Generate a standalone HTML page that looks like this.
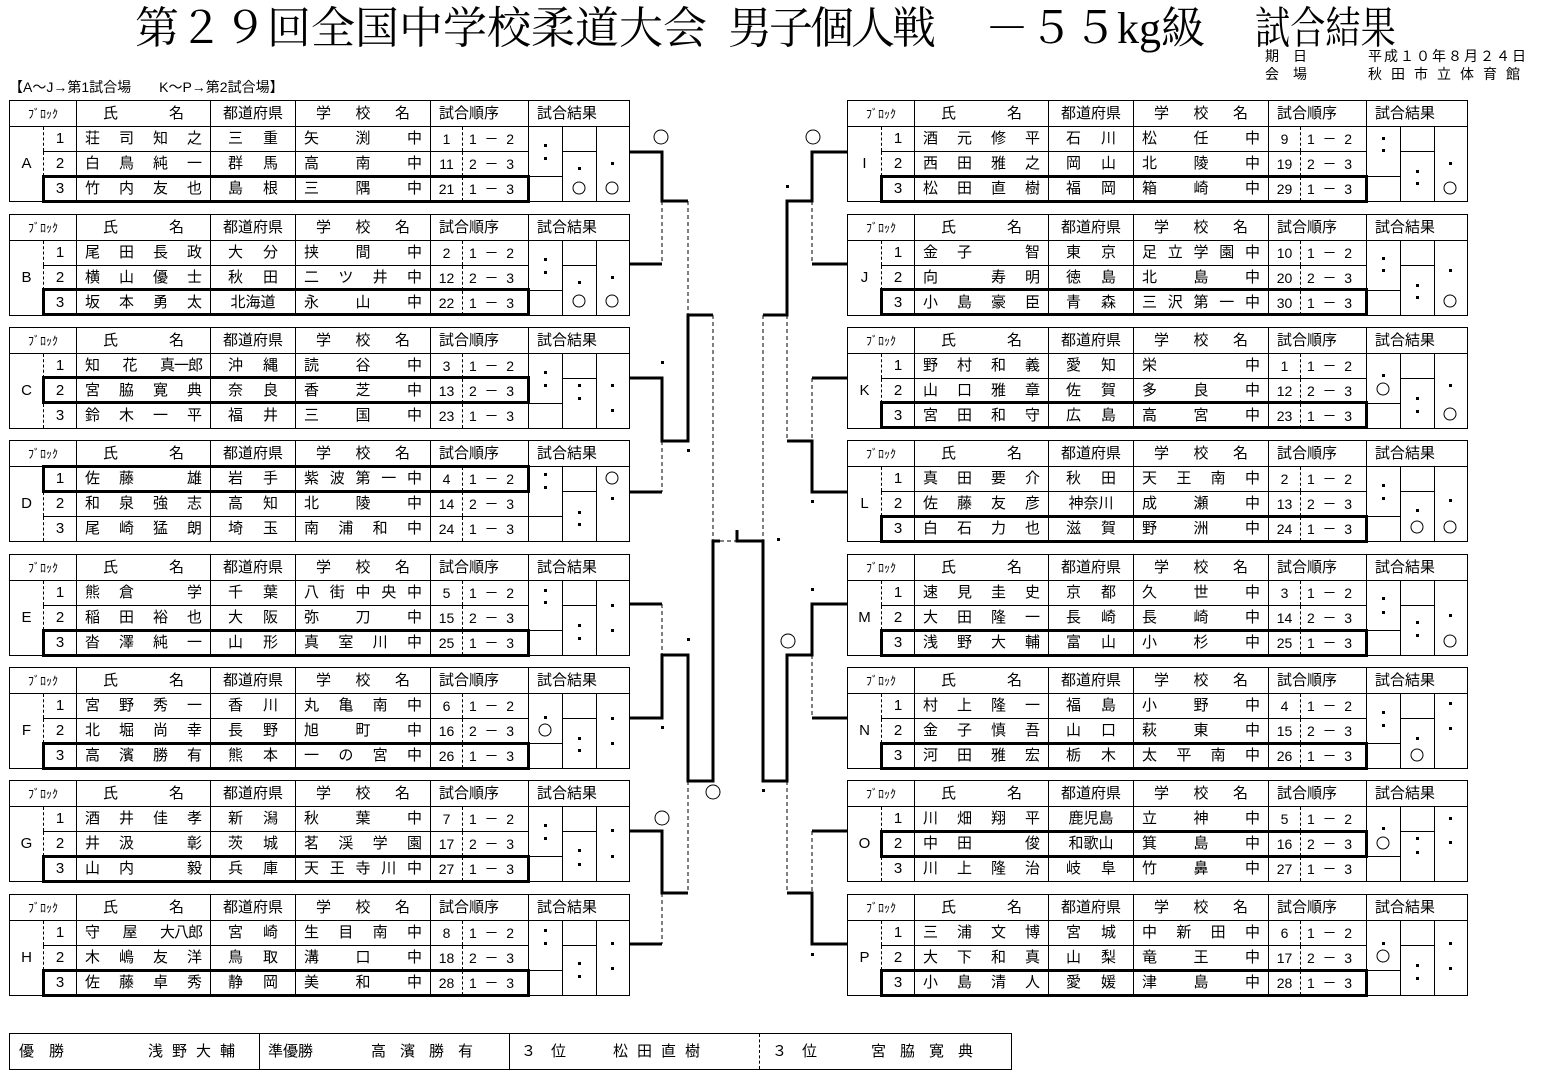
<!DOCTYPE html>
<html><head><meta charset="utf-8">
<style>
body{margin:0;width:1541px;height:1076px;position:relative;background:#fff;overflow:hidden;font-family:"Liberation Sans","Noto Sans CJK JP",sans-serif;color:#000}
.t{position:absolute;white-space:nowrap}
.ti{font-family:"Liberation Serif","Noto Serif CJK SC",serif;font-size:44px;line-height:50px;top:4px}
table.b{position:absolute;border-collapse:collapse;table-layout:fixed;width:620px;font-size:15px}
table.b td{border:1px solid #000;padding:0;height:24px;line-height:18px;overflow:hidden;white-space:nowrap}
table.b tr.h td{height:25px}
td.j{text-align:justify;text-align-last:justify}
td.L{text-align:center;border-right:1px dashed #000 !important}
td.n{text-align:center;border-left:1px dashed #000 !important}
td.nm{padding:0 8px !important}
td.p2{padding:0 17px !important}
td.p3{text-align:center}
td.sc{padding:0 8px !important}
td.o{text-align:center;border-right:1px dashed #000 !important;font-size:14px}
td.oo{padding:0 14px 0 6px !important;border-left:1px dashed #000 !important;font-size:14px}
td.hb{text-align:center;font-size:12px}
td.hn{padding:0 26px !important}
td.hp{text-align:center}
td.hs{padding:0 20px !important}
td.hl{padding-left:8px !important}
i{visibility:hidden;font-style:normal}
b.k{display:inline-block;font-weight:normal;letter-spacing:-1px}
.bx{position:absolute;border:3px solid #000;box-sizing:border-box;width:488px;height:28px}
.bt{position:absolute;left:9px;top:1033px;width:1003px;height:37px;border:1px solid #000;box-sizing:border-box;font-size:15px}
.bt div{position:absolute;top:0;height:35px;line-height:35px;white-space:nowrap}
</style></head><body>

<div class="t ti" style="left:135px">第２９回全国中学校柔道大会</div>
<div class="t ti" style="left:728px;letter-spacing:-3px">男子個人戦</div>
<div class="t ti" style="left:985px">－５５kg級</div>
<div class="t ti" style="left:1255px;transform:scaleX(0.8);transform-origin:left">試合結果</div>
<div class="t" style="left:1265px;top:48px;font-size:14px;line-height:16px">期　日</div>
<div class="t" style="left:1368px;top:48px;font-size:14px;line-height:16px;letter-spacing:2px">平成１０年８月２４日</div>
<div class="t" style="left:1265px;top:66px;font-size:14px;line-height:16px">会　場</div>
<div class="t" style="left:1368px;top:66px;font-size:14px;line-height:16px;letter-spacing:9px">秋田市立体育館</div>
<div class="t" style="left:9px;top:79px;font-size:14px;line-height:16px">【A～J→第1試合場　　K～P→第2試合場】</div>

<!-- LEFT BLOCKS -->
<table class="b" style="left:9px;top:100px"><colgroup><col style="width:34px"><col style="width:33px"><col style="width:134px"><col style="width:85px"><col style="width:135px"><col style="width:32px"><col style="width:66px"><col style="width:34px"><col style="width:34px"><col style="width:33px"></colgroup>
<tr class="h"><td colspan="2" class="hb">ﾌﾞﾛｯｸ</td><td class="j hn">氏 名</td><td class="hp">都道府県</td><td class="j hs">学 校 名</td><td colspan="2" class="hl">試合順序</td><td colspan="3" class="hl">試合結果</td></tr>
<tr><td class="L" rowspan="3">A</td><td class="n">1</td><td class="j nm">荘 司 知 之</td><td class="j p2">三 重</td><td class="j sc">矢 <i>中</i> 渕 <i>中</i> 中</td><td class="o">1</td><td class="j oo">1 － 2</td><td rowspan="2"></td><td></td><td rowspan="3"></td></tr>
<tr><td class="n">2</td><td class="j nm">白 鳥 純 一</td><td class="j p2">群 馬</td><td class="j sc">高 <i>中</i> 南 <i>中</i> 中</td><td class="o">11</td><td class="j oo">2 － 3</td><td rowspan="2"></td></tr>
<tr><td class="n">3</td><td class="j nm">竹 内 友 也</td><td class="j p2">島 根</td><td class="j sc">三 <i>中</i> 隅 <i>中</i> 中</td><td class="o">21</td><td class="j oo">1 － 3</td><td></td></tr></table>

<table class="b" style="left:9px;top:214px"><colgroup><col style="width:34px"><col style="width:33px"><col style="width:134px"><col style="width:85px"><col style="width:135px"><col style="width:32px"><col style="width:66px"><col style="width:34px"><col style="width:34px"><col style="width:33px"></colgroup>
<tr class="h"><td colspan="2" class="hb">ﾌﾞﾛｯｸ</td><td class="j hn">氏 名</td><td class="hp">都道府県</td><td class="j hs">学 校 名</td><td colspan="2" class="hl">試合順序</td><td colspan="3" class="hl">試合結果</td></tr>
<tr><td class="L" rowspan="3">B</td><td class="n">1</td><td class="j nm">尾 田 長 政</td><td class="j p2">大 分</td><td class="j sc">挟 <i>中</i> 間 <i>中</i> 中</td><td class="o">2</td><td class="j oo">1 － 2</td><td rowspan="2"></td><td></td><td rowspan="3"></td></tr>
<tr><td class="n">2</td><td class="j nm">横 山 優 士</td><td class="j p2">秋 田</td><td class="j sc">二 ツ 井 中</td><td class="o">12</td><td class="j oo">2 － 3</td><td rowspan="2"></td></tr>
<tr><td class="n">3</td><td class="j nm">坂 本 勇 太</td><td class="p3">北海道</td><td class="j sc">永 <i>中</i> 山 <i>中</i> 中</td><td class="o">22</td><td class="j oo">1 － 3</td><td></td></tr></table>

<table class="b" style="left:9px;top:327px"><colgroup><col style="width:34px"><col style="width:33px"><col style="width:134px"><col style="width:85px"><col style="width:135px"><col style="width:32px"><col style="width:66px"><col style="width:34px"><col style="width:34px"><col style="width:33px"></colgroup>
<tr class="h"><td colspan="2" class="hb">ﾌﾞﾛｯｸ</td><td class="j hn">氏 名</td><td class="hp">都道府県</td><td class="j hs">学 校 名</td><td colspan="2" class="hl">試合順序</td><td colspan="3" class="hl">試合結果</td></tr>
<tr><td class="L" rowspan="3">C</td><td class="n">1</td><td class="j nm">知 花 <b class="k">真一郎</b></td><td class="j p2">沖 縄</td><td class="j sc">読 <i>中</i> 谷 <i>中</i> 中</td><td class="o">3</td><td class="j oo">1 － 2</td><td rowspan="2"></td><td></td><td rowspan="3"></td></tr>
<tr><td class="n">2</td><td class="j nm">宮 脇 寛 典</td><td class="j p2">奈 良</td><td class="j sc">香 <i>中</i> 芝 <i>中</i> 中</td><td class="o">13</td><td class="j oo">2 － 3</td><td rowspan="2"></td></tr>
<tr><td class="n">3</td><td class="j nm">鈴 木 一 平</td><td class="j p2">福 井</td><td class="j sc">三 <i>中</i> 国 <i>中</i> 中</td><td class="o">23</td><td class="j oo">1 － 3</td><td></td></tr></table>

<table class="b" style="left:9px;top:440px"><colgroup><col style="width:34px"><col style="width:33px"><col style="width:134px"><col style="width:85px"><col style="width:135px"><col style="width:32px"><col style="width:66px"><col style="width:34px"><col style="width:34px"><col style="width:33px"></colgroup>
<tr class="h"><td colspan="2" class="hb">ﾌﾞﾛｯｸ</td><td class="j hn">氏 名</td><td class="hp">都道府県</td><td class="j hs">学 校 名</td><td colspan="2" class="hl">試合順序</td><td colspan="3" class="hl">試合結果</td></tr>
<tr><td class="L" rowspan="3">D</td><td class="n">1</td><td class="j nm">佐 藤 <i>雄</i> 雄</td><td class="j p2">岩 手</td><td class="j sc">紫 波 第 一 中</td><td class="o">4</td><td class="j oo">1 － 2</td><td rowspan="2"></td><td></td><td rowspan="3"></td></tr>
<tr><td class="n">2</td><td class="j nm">和 泉 強 志</td><td class="j p2">高 知</td><td class="j sc">北 <i>中</i> 陵 <i>中</i> 中</td><td class="o">14</td><td class="j oo">2 － 3</td><td rowspan="2"></td></tr>
<tr><td class="n">3</td><td class="j nm">尾 崎 猛 朗</td><td class="j p2">埼 玉</td><td class="j sc">南 浦 和 中</td><td class="o">24</td><td class="j oo">1 － 3</td><td></td></tr></table>

<table class="b" style="left:9px;top:554px"><colgroup><col style="width:34px"><col style="width:33px"><col style="width:134px"><col style="width:85px"><col style="width:135px"><col style="width:32px"><col style="width:66px"><col style="width:34px"><col style="width:34px"><col style="width:33px"></colgroup>
<tr class="h"><td colspan="2" class="hb">ﾌﾞﾛｯｸ</td><td class="j hn">氏 名</td><td class="hp">都道府県</td><td class="j hs">学 校 名</td><td colspan="2" class="hl">試合順序</td><td colspan="3" class="hl">試合結果</td></tr>
<tr><td class="L" rowspan="3">E</td><td class="n">1</td><td class="j nm">熊 倉 <i>学</i> 学</td><td class="j p2">千 葉</td><td class="j sc">八 街 中 央 中</td><td class="o">5</td><td class="j oo">1 － 2</td><td rowspan="2"></td><td></td><td rowspan="3"></td></tr>
<tr><td class="n">2</td><td class="j nm">稲 田 裕 也</td><td class="j p2">大 阪</td><td class="j sc">弥 <i>中</i> 刀 <i>中</i> 中</td><td class="o">15</td><td class="j oo">2 － 3</td><td rowspan="2"></td></tr>
<tr><td class="n">3</td><td class="j nm">沓 澤 純 一</td><td class="j p2">山 形</td><td class="j sc">真 室 川 中</td><td class="o">25</td><td class="j oo">1 － 3</td><td></td></tr></table>

<table class="b" style="left:9px;top:667px"><colgroup><col style="width:34px"><col style="width:33px"><col style="width:134px"><col style="width:85px"><col style="width:135px"><col style="width:32px"><col style="width:66px"><col style="width:34px"><col style="width:34px"><col style="width:33px"></colgroup>
<tr class="h"><td colspan="2" class="hb">ﾌﾞﾛｯｸ</td><td class="j hn">氏 名</td><td class="hp">都道府県</td><td class="j hs">学 校 名</td><td colspan="2" class="hl">試合順序</td><td colspan="3" class="hl">試合結果</td></tr>
<tr><td class="L" rowspan="3">F</td><td class="n">1</td><td class="j nm">宮 野 秀 一</td><td class="j p2">香 川</td><td class="j sc">丸 亀 南 中</td><td class="o">6</td><td class="j oo">1 － 2</td><td rowspan="2"></td><td></td><td rowspan="3"></td></tr>
<tr><td class="n">2</td><td class="j nm">北 堀 尚 幸</td><td class="j p2">長 野</td><td class="j sc">旭 <i>中</i> 町 <i>中</i> 中</td><td class="o">16</td><td class="j oo">2 － 3</td><td rowspan="2"></td></tr>
<tr><td class="n">3</td><td class="j nm">高 濱 勝 有</td><td class="j p2">熊 本</td><td class="j sc">一 の 宮 中</td><td class="o">26</td><td class="j oo">1 － 3</td><td></td></tr></table>

<table class="b" style="left:9px;top:780px"><colgroup><col style="width:34px"><col style="width:33px"><col style="width:134px"><col style="width:85px"><col style="width:135px"><col style="width:32px"><col style="width:66px"><col style="width:34px"><col style="width:34px"><col style="width:33px"></colgroup>
<tr class="h"><td colspan="2" class="hb">ﾌﾞﾛｯｸ</td><td class="j hn">氏 名</td><td class="hp">都道府県</td><td class="j hs">学 校 名</td><td colspan="2" class="hl">試合順序</td><td colspan="3" class="hl">試合結果</td></tr>
<tr><td class="L" rowspan="3">G</td><td class="n">1</td><td class="j nm">酒 井 佳 孝</td><td class="j p2">新 潟</td><td class="j sc">秋 <i>中</i> 葉 <i>中</i> 中</td><td class="o">7</td><td class="j oo">1 － 2</td><td rowspan="2"></td><td></td><td rowspan="3"></td></tr>
<tr><td class="n">2</td><td class="j nm">井 汲 <i>彰</i> 彰</td><td class="j p2">茨 城</td><td class="j sc">茗 渓 学 園</td><td class="o">17</td><td class="j oo">2 － 3</td><td rowspan="2"></td></tr>
<tr><td class="n">3</td><td class="j nm">山 内 <i>毅</i> 毅</td><td class="j p2">兵 庫</td><td class="j sc">天 王 寺 川 中</td><td class="o">27</td><td class="j oo">1 － 3</td><td></td></tr></table>

<table class="b" style="left:9px;top:894px"><colgroup><col style="width:34px"><col style="width:33px"><col style="width:134px"><col style="width:85px"><col style="width:135px"><col style="width:32px"><col style="width:66px"><col style="width:34px"><col style="width:34px"><col style="width:33px"></colgroup>
<tr class="h"><td colspan="2" class="hb">ﾌﾞﾛｯｸ</td><td class="j hn">氏 名</td><td class="hp">都道府県</td><td class="j hs">学 校 名</td><td colspan="2" class="hl">試合順序</td><td colspan="3" class="hl">試合結果</td></tr>
<tr><td class="L" rowspan="3">H</td><td class="n">1</td><td class="j nm">守 屋 <b class="k">大八郎</b></td><td class="j p2">宮 崎</td><td class="j sc">生 目 南 中</td><td class="o">8</td><td class="j oo">1 － 2</td><td rowspan="2"></td><td></td><td rowspan="3"></td></tr>
<tr><td class="n">2</td><td class="j nm">木 嶋 友 洋</td><td class="j p2">鳥 取</td><td class="j sc">溝 <i>中</i> 口 <i>中</i> 中</td><td class="o">18</td><td class="j oo">2 － 3</td><td rowspan="2"></td></tr>
<tr><td class="n">3</td><td class="j nm">佐 藤 卓 秀</td><td class="j p2">静 岡</td><td class="j sc">美 <i>中</i> 和 <i>中</i> 中</td><td class="o">28</td><td class="j oo">1 － 3</td><td></td></tr></table>

<!-- RIGHT BLOCKS -->
<table class="b" style="left:847px;top:100px"><colgroup><col style="width:34px"><col style="width:33px"><col style="width:134px"><col style="width:85px"><col style="width:135px"><col style="width:32px"><col style="width:66px"><col style="width:34px"><col style="width:34px"><col style="width:33px"></colgroup>
<tr class="h"><td colspan="2" class="hb">ﾌﾞﾛｯｸ</td><td class="j hn">氏 名</td><td class="hp">都道府県</td><td class="j hs">学 校 名</td><td colspan="2" class="hl">試合順序</td><td colspan="3" class="hl">試合結果</td></tr>
<tr><td class="L" rowspan="3">I</td><td class="n">1</td><td class="j nm">酒 元 修 平</td><td class="j p2">石 川</td><td class="j sc">松 <i>中</i> 任 <i>中</i> 中</td><td class="o">9</td><td class="j oo">1 － 2</td><td rowspan="2"></td><td></td><td rowspan="3"></td></tr>
<tr><td class="n">2</td><td class="j nm">西 田 雅 之</td><td class="j p2">岡 山</td><td class="j sc">北 <i>中</i> 陵 <i>中</i> 中</td><td class="o">19</td><td class="j oo">2 － 3</td><td rowspan="2"></td></tr>
<tr><td class="n">3</td><td class="j nm">松 田 直 樹</td><td class="j p2">福 岡</td><td class="j sc">箱 <i>中</i> 崎 <i>中</i> 中</td><td class="o">29</td><td class="j oo">1 － 3</td><td></td></tr></table>

<table class="b" style="left:847px;top:214px"><colgroup><col style="width:34px"><col style="width:33px"><col style="width:134px"><col style="width:85px"><col style="width:135px"><col style="width:32px"><col style="width:66px"><col style="width:34px"><col style="width:34px"><col style="width:33px"></colgroup>
<tr class="h"><td colspan="2" class="hb">ﾌﾞﾛｯｸ</td><td class="j hn">氏 名</td><td class="hp">都道府県</td><td class="j hs">学 校 名</td><td colspan="2" class="hl">試合順序</td><td colspan="3" class="hl">試合結果</td></tr>
<tr><td class="L" rowspan="3">J</td><td class="n">1</td><td class="j nm">金 子 <i>智</i> 智</td><td class="j p2">東 京</td><td class="j sc">足 立 学 園 中</td><td class="o">10</td><td class="j oo">1 － 2</td><td rowspan="2"></td><td></td><td rowspan="3"></td></tr>
<tr><td class="n">2</td><td class="j nm">向 <i>寿</i> 寿 明</td><td class="j p2">徳 島</td><td class="j sc">北 <i>中</i> 島 <i>中</i> 中</td><td class="o">20</td><td class="j oo">2 － 3</td><td rowspan="2"></td></tr>
<tr><td class="n">3</td><td class="j nm">小 島 豪 臣</td><td class="j p2">青 森</td><td class="j sc">三 沢 第 一 中</td><td class="o">30</td><td class="j oo">1 － 3</td><td></td></tr></table>

<table class="b" style="left:847px;top:327px"><colgroup><col style="width:34px"><col style="width:33px"><col style="width:134px"><col style="width:85px"><col style="width:135px"><col style="width:32px"><col style="width:66px"><col style="width:34px"><col style="width:34px"><col style="width:33px"></colgroup>
<tr class="h"><td colspan="2" class="hb">ﾌﾞﾛｯｸ</td><td class="j hn">氏 名</td><td class="hp">都道府県</td><td class="j hs">学 校 名</td><td colspan="2" class="hl">試合順序</td><td colspan="3" class="hl">試合結果</td></tr>
<tr><td class="L" rowspan="3">K</td><td class="n">1</td><td class="j nm">野 村 和 義</td><td class="j p2">愛 知</td><td class="j sc">栄 <i>中</i> <i>中</i> <i>中</i> 中</td><td class="o">1</td><td class="j oo">1 － 2</td><td rowspan="2"></td><td></td><td rowspan="3"></td></tr>
<tr><td class="n">2</td><td class="j nm">山 口 雅 章</td><td class="j p2">佐 賀</td><td class="j sc">多 <i>中</i> 良 <i>中</i> 中</td><td class="o">12</td><td class="j oo">2 － 3</td><td rowspan="2"></td></tr>
<tr><td class="n">3</td><td class="j nm">宮 田 和 守</td><td class="j p2">広 島</td><td class="j sc">高 <i>中</i> 宮 <i>中</i> 中</td><td class="o">23</td><td class="j oo">1 － 3</td><td></td></tr></table>

<table class="b" style="left:847px;top:440px"><colgroup><col style="width:34px"><col style="width:33px"><col style="width:134px"><col style="width:85px"><col style="width:135px"><col style="width:32px"><col style="width:66px"><col style="width:34px"><col style="width:34px"><col style="width:33px"></colgroup>
<tr class="h"><td colspan="2" class="hb">ﾌﾞﾛｯｸ</td><td class="j hn">氏 名</td><td class="hp">都道府県</td><td class="j hs">学 校 名</td><td colspan="2" class="hl">試合順序</td><td colspan="3" class="hl">試合結果</td></tr>
<tr><td class="L" rowspan="3">L</td><td class="n">1</td><td class="j nm">真 田 要 介</td><td class="j p2">秋 田</td><td class="j sc">天 王 南 中</td><td class="o">2</td><td class="j oo">1 － 2</td><td rowspan="2"></td><td></td><td rowspan="3"></td></tr>
<tr><td class="n">2</td><td class="j nm">佐 藤 友 彦</td><td class="p3">神奈川</td><td class="j sc">成 <i>中</i> 瀬 <i>中</i> 中</td><td class="o">13</td><td class="j oo">2 － 3</td><td rowspan="2"></td></tr>
<tr><td class="n">3</td><td class="j nm">白 石 力 也</td><td class="j p2">滋 賀</td><td class="j sc">野 <i>中</i> 洲 <i>中</i> 中</td><td class="o">24</td><td class="j oo">1 － 3</td><td></td></tr></table>

<table class="b" style="left:847px;top:554px"><colgroup><col style="width:34px"><col style="width:33px"><col style="width:134px"><col style="width:85px"><col style="width:135px"><col style="width:32px"><col style="width:66px"><col style="width:34px"><col style="width:34px"><col style="width:33px"></colgroup>
<tr class="h"><td colspan="2" class="hb">ﾌﾞﾛｯｸ</td><td class="j hn">氏 名</td><td class="hp">都道府県</td><td class="j hs">学 校 名</td><td colspan="2" class="hl">試合順序</td><td colspan="3" class="hl">試合結果</td></tr>
<tr><td class="L" rowspan="3">M</td><td class="n">1</td><td class="j nm">速 見 圭 史</td><td class="j p2">京 都</td><td class="j sc">久 <i>中</i> 世 <i>中</i> 中</td><td class="o">3</td><td class="j oo">1 － 2</td><td rowspan="2"></td><td></td><td rowspan="3"></td></tr>
<tr><td class="n">2</td><td class="j nm">大 田 隆 一</td><td class="j p2">長 崎</td><td class="j sc">長 <i>中</i> 崎 <i>中</i> 中</td><td class="o">14</td><td class="j oo">2 － 3</td><td rowspan="2"></td></tr>
<tr><td class="n">3</td><td class="j nm">浅 野 大 輔</td><td class="j p2">富 山</td><td class="j sc">小 <i>中</i> 杉 <i>中</i> 中</td><td class="o">25</td><td class="j oo">1 － 3</td><td></td></tr></table>

<table class="b" style="left:847px;top:667px"><colgroup><col style="width:34px"><col style="width:33px"><col style="width:134px"><col style="width:85px"><col style="width:135px"><col style="width:32px"><col style="width:66px"><col style="width:34px"><col style="width:34px"><col style="width:33px"></colgroup>
<tr class="h"><td colspan="2" class="hb">ﾌﾞﾛｯｸ</td><td class="j hn">氏 名</td><td class="hp">都道府県</td><td class="j hs">学 校 名</td><td colspan="2" class="hl">試合順序</td><td colspan="3" class="hl">試合結果</td></tr>
<tr><td class="L" rowspan="3">N</td><td class="n">1</td><td class="j nm">村 上 隆 一</td><td class="j p2">福 島</td><td class="j sc">小 <i>中</i> 野 <i>中</i> 中</td><td class="o">4</td><td class="j oo">1 － 2</td><td rowspan="2"></td><td></td><td rowspan="3"></td></tr>
<tr><td class="n">2</td><td class="j nm">金 子 慎 吾</td><td class="j p2">山 口</td><td class="j sc">萩 <i>中</i> 東 <i>中</i> 中</td><td class="o">15</td><td class="j oo">2 － 3</td><td rowspan="2"></td></tr>
<tr><td class="n">3</td><td class="j nm">河 田 雅 宏</td><td class="j p2">栃 木</td><td class="j sc">太 平 南 中</td><td class="o">26</td><td class="j oo">1 － 3</td><td></td></tr></table>

<table class="b" style="left:847px;top:780px"><colgroup><col style="width:34px"><col style="width:33px"><col style="width:134px"><col style="width:85px"><col style="width:135px"><col style="width:32px"><col style="width:66px"><col style="width:34px"><col style="width:34px"><col style="width:33px"></colgroup>
<tr class="h"><td colspan="2" class="hb">ﾌﾞﾛｯｸ</td><td class="j hn">氏 名</td><td class="hp">都道府県</td><td class="j hs">学 校 名</td><td colspan="2" class="hl">試合順序</td><td colspan="3" class="hl">試合結果</td></tr>
<tr><td class="L" rowspan="3">O</td><td class="n">1</td><td class="j nm">川 畑 翔 平</td><td class="p3">鹿児島</td><td class="j sc">立 <i>中</i> 神 <i>中</i> 中</td><td class="o">5</td><td class="j oo">1 － 2</td><td rowspan="2"></td><td></td><td rowspan="3"></td></tr>
<tr><td class="n">2</td><td class="j nm">中 田 <i>俊</i> 俊</td><td class="p3">和歌山</td><td class="j sc">箕 <i>中</i> 島 <i>中</i> 中</td><td class="o">16</td><td class="j oo">2 － 3</td><td rowspan="2"></td></tr>
<tr><td class="n">3</td><td class="j nm">川 上 隆 治</td><td class="j p2">岐 阜</td><td class="j sc">竹 <i>中</i> 鼻 <i>中</i> 中</td><td class="o">27</td><td class="j oo">1 － 3</td><td></td></tr></table>

<table class="b" style="left:847px;top:894px"><colgroup><col style="width:34px"><col style="width:33px"><col style="width:134px"><col style="width:85px"><col style="width:135px"><col style="width:32px"><col style="width:66px"><col style="width:34px"><col style="width:34px"><col style="width:33px"></colgroup>
<tr class="h"><td colspan="2" class="hb">ﾌﾞﾛｯｸ</td><td class="j hn">氏 名</td><td class="hp">都道府県</td><td class="j hs">学 校 名</td><td colspan="2" class="hl">試合順序</td><td colspan="3" class="hl">試合結果</td></tr>
<tr><td class="L" rowspan="3">P</td><td class="n">1</td><td class="j nm">三 浦 文 博</td><td class="j p2">宮 城</td><td class="j sc">中 新 田 中</td><td class="o">6</td><td class="j oo">1 － 2</td><td rowspan="2"></td><td></td><td rowspan="3"></td></tr>
<tr><td class="n">2</td><td class="j nm">大 下 和 真</td><td class="j p2">山 梨</td><td class="j sc">竜 <i>中</i> 王 <i>中</i> 中</td><td class="o">17</td><td class="j oo">2 － 3</td><td rowspan="2"></td></tr>
<tr><td class="n">3</td><td class="j nm">小 島 清 人</td><td class="j p2">愛 媛</td><td class="j sc">津 <i>中</i> 島 <i>中</i> 中</td><td class="o">28</td><td class="j oo">1 － 3</td><td></td></tr></table>

<!-- winner boxes -->
<div class="bx" style="left:42px;top:175px"></div>
<div class="bx" style="left:42px;top:288px"></div>
<div class="bx" style="left:42px;top:376px"></div>
<div class="bx" style="left:42px;top:465px"></div>
<div class="bx" style="left:42px;top:629px"></div>
<div class="bx" style="left:42px;top:742px"></div>
<div class="bx" style="left:42px;top:855px"></div>
<div class="bx" style="left:42px;top:969px"></div>
<div class="bx" style="left:880px;top:175px"></div>
<div class="bx" style="left:880px;top:288px"></div>
<div class="bx" style="left:880px;top:401px"></div>
<div class="bx" style="left:880px;top:515px"></div>
<div class="bx" style="left:880px;top:629px"></div>
<div class="bx" style="left:880px;top:742px"></div>
<div class="bx" style="left:880px;top:830px"></div>
<div class="bx" style="left:880px;top:969px"></div>

<svg style="position:absolute;left:0;top:0" width="1541" height="1076">
<g fill="none" stroke="#000" stroke-width="3">
<path d="M629 152H662V201H688"/><path d="M629 264H662"/>
<path d="M629 378H662V441H688V315H713"/><path d="M629 492H662"/>
<path d="M629 604H662"/><path d="M629 718H662V655H688V781H713V541H720"/>
<path d="M629 831H662V893H688"/><path d="M629 944H662"/>
<path d="M737 530V541H763V781H787V655H812V604H847"/>
<path d="M847 152H812V201H787V315H763"/><path d="M847 264H812"/>
<path d="M847 378H812"/><path d="M847 492H812V441H787"/>
<path d="M847 718H812"/><path d="M847 831H812"/>
<path d="M847 944H812V893H787"/>
</g>
<g fill="none" stroke="#000" stroke-width="1" stroke-dasharray="4,3">
<path d="M662 201V264M688 201V315M662 441V492M713 315V541M763 315V541M720 541H737M662 604V655M688 781V893M662 893V944"/>
<path d="M812 201V264M787 315V441M812 378V441M812 655V718M787 781V893M812 831V893"/>
</g>
<g fill="none" stroke="#000" stroke-width="1">
<circle cx="661" cy="137" r="7"/><circle cx="813" cy="137" r="7"/><circle cx="713" cy="792" r="7"/><circle cx="662" cy="818" r="7"/><circle cx="788" cy="641" r="7"/>
<circle cx="579" cy="188" r="6"/><circle cx="612" cy="188" r="6"/>
<circle cx="579" cy="301" r="6"/><circle cx="612" cy="301" r="6"/>
<circle cx="612" cy="478" r="6"/><circle cx="545" cy="730" r="6"/>
<circle cx="1450" cy="188" r="6"/><circle cx="1450" cy="301" r="6"/>
<circle cx="1383" cy="389" r="6"/><circle cx="1450" cy="414" r="6"/>
<circle cx="1417" cy="527" r="6"/><circle cx="1450" cy="527" r="6"/>
<circle cx="1450" cy="641" r="6"/><circle cx="1417" cy="755" r="6"/>
<circle cx="1383" cy="843" r="6"/><circle cx="1383" cy="956" r="6"/>
</g>
<g fill="#000">
<rect x="786" y="185" width="3" height="3"/><rect x="661" y="361" width="3" height="3"/><rect x="687" y="449" width="3" height="3"/><rect x="811" y="500" width="3" height="3"/><rect x="777" y="538" width="3" height="3"/><rect x="687" y="638" width="3" height="3"/><rect x="661" y="726" width="3" height="3"/><rect x="762" y="789" width="3" height="3"/><rect x="811" y="588" width="3" height="3"/><rect x="811" y="953" width="3" height="3"/>
<rect x="544" y="144" width="3" height="3"/><rect x="544" y="157" width="3" height="3"/><rect x="578" y="167" width="3" height="3"/><rect x="611" y="162" width="3" height="3"/>
<rect x="544" y="258" width="3" height="3"/><rect x="544" y="271" width="3" height="3"/><rect x="578" y="281" width="3" height="3"/><rect x="611" y="276" width="3" height="3"/>
<rect x="544" y="371" width="3" height="3"/><rect x="544" y="384" width="3" height="3"/><rect x="578" y="384" width="3" height="3"/><rect x="578" y="397" width="3" height="3"/><rect x="611" y="384" width="3" height="3"/><rect x="611" y="409" width="3" height="3"/>
<rect x="544" y="473" width="3" height="3"/><rect x="544" y="486" width="3" height="3"/><rect x="578" y="511" width="3" height="3"/><rect x="578" y="523" width="3" height="3"/><rect x="611" y="497" width="3" height="3"/>
<rect x="544" y="589" width="3" height="3"/><rect x="544" y="601" width="3" height="3"/><rect x="578" y="624" width="3" height="3"/><rect x="578" y="637" width="3" height="3"/><rect x="611" y="604" width="3" height="3"/><rect x="611" y="629" width="3" height="3"/>
<rect x="544" y="716" width="3" height="3"/><rect x="578" y="737" width="3" height="3"/><rect x="578" y="749" width="3" height="3"/><rect x="611" y="717" width="3" height="3"/><rect x="611" y="742" width="3" height="3"/>
<rect x="544" y="824" width="3" height="3"/><rect x="544" y="837" width="3" height="3"/><rect x="578" y="849" width="3" height="3"/><rect x="578" y="863" width="3" height="3"/><rect x="611" y="829" width="3" height="3"/><rect x="611" y="855" width="3" height="3"/>
<rect x="544" y="929" width="3" height="3"/><rect x="544" y="942" width="3" height="3"/><rect x="578" y="962" width="3" height="3"/><rect x="578" y="975" width="3" height="3"/><rect x="611" y="942" width="3" height="3"/><rect x="611" y="967" width="3" height="3"/>
<rect x="1382" y="137" width="3" height="3"/><rect x="1382" y="149" width="3" height="3"/><rect x="1416" y="170" width="3" height="3"/><rect x="1416" y="182" width="3" height="3"/><rect x="1449" y="162" width="3" height="3"/>
<rect x="1382" y="257" width="3" height="3"/><rect x="1382" y="269" width="3" height="3"/><rect x="1416" y="284" width="3" height="3"/><rect x="1416" y="296" width="3" height="3"/><rect x="1449" y="269" width="3" height="3"/>
<rect x="1382" y="374" width="3" height="3"/><rect x="1416" y="397" width="3" height="3"/><rect x="1416" y="410" width="3" height="3"/><rect x="1449" y="384" width="3" height="3"/>
<rect x="1382" y="484" width="3" height="3"/><rect x="1382" y="497" width="3" height="3"/><rect x="1416" y="509" width="3" height="3"/><rect x="1449" y="499" width="3" height="3"/>
<rect x="1382" y="597" width="3" height="3"/><rect x="1382" y="611" width="3" height="3"/><rect x="1416" y="621" width="3" height="3"/><rect x="1416" y="634" width="3" height="3"/><rect x="1449" y="614" width="3" height="3"/>
<rect x="1382" y="711" width="3" height="3"/><rect x="1382" y="724" width="3" height="3"/><rect x="1416" y="737" width="3" height="3"/><rect x="1449" y="702" width="3" height="3"/><rect x="1449" y="727" width="3" height="3"/>
<rect x="1382" y="827" width="3" height="3"/><rect x="1416" y="837" width="3" height="3"/><rect x="1416" y="851" width="3" height="3"/><rect x="1449" y="817" width="3" height="3"/><rect x="1449" y="841" width="3" height="3"/>
<rect x="1382" y="942" width="3" height="3"/><rect x="1416" y="964" width="3" height="3"/><rect x="1416" y="977" width="3" height="3"/><rect x="1449" y="942" width="3" height="3"/><rect x="1449" y="967" width="3" height="3"/>
</g>
</svg>

<div class="bt">
<div style="left:9px">優　勝</div><div style="left:138px;letter-spacing:9px">浅野大輔</div>
<div style="left:249px;width:0;height:35px;border-left:1px solid #000"></div>
<div style="left:258px">準優勝</div><div style="left:361px;letter-spacing:14px">高濱勝有</div>
<div style="left:499px;width:0;height:35px;border-left:1px solid #000"></div>
<div style="left:511px">３　位</div><div style="left:603px;letter-spacing:9px">松田直樹</div>
<div style="left:749px;width:0;height:35px;border-left:1px dashed #000"></div>
<div style="left:762px">３　位</div><div style="left:861px;letter-spacing:14px">宮脇寛典</div>
</div>
</body></html>
